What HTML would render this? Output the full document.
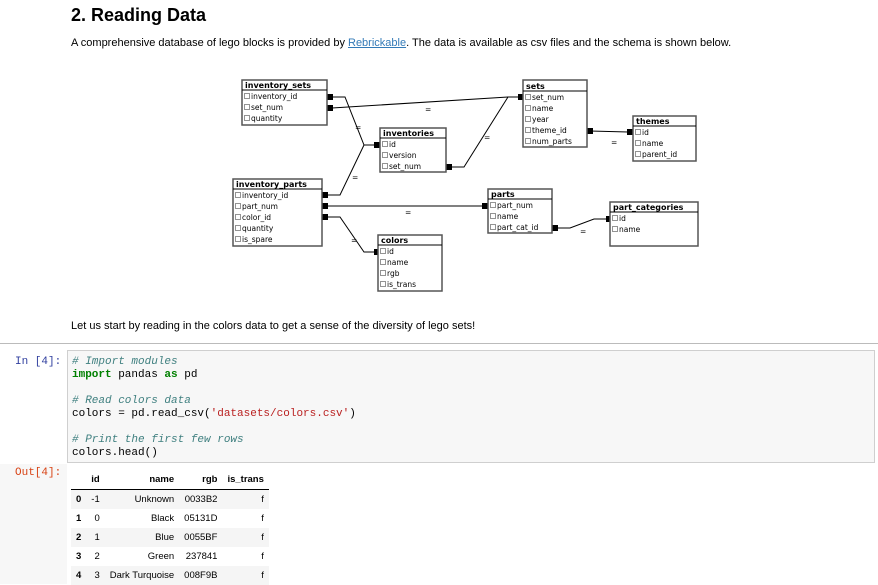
<!DOCTYPE html>
<html><head><meta charset="utf-8"><style>
body{margin:0;width:878px;height:584px;background:#fff;position:relative;overflow:hidden;font-family:"Liberation Sans",sans-serif;color:#000}
.a{position:absolute;white-space:nowrap}
.mono{font-family:"Liberation Mono",monospace;font-size:11px}
.c{color:#408080;font-style:italic}
.k{color:#008000;font-weight:bold}
.s{color:#ba2121}
table{border-collapse:collapse;font-size:9.5px}
td,th{padding:0 5px;height:19px;text-align:right}
th{font-weight:bold}
</style></head><body>
<div class="a" style="left:71px;top:5px;font-size:18px;font-weight:bold">2. Reading Data</div>
<div class="a" style="left:71px;top:37px;font-size:11px">A comprehensive database of lego blocks is provided by <span style="color:#337ab7;text-decoration:underline">Rebrickable</span>. The data is available as csv files and the schema is shown below.</div>

<svg class="a" style="left:0;top:0" width="878" height="320" font-family="DejaVu Sans, sans-serif" font-size="7.5">
<g stroke="#000" stroke-width="1" fill="none">
<polyline points="330,97 345,97 364,145 376,145"/>
<polyline points="332,108 508,97 518,97"/>
<polyline points="450,167 464,167 508,97"/>
<polyline points="326,195 340,195 364,145"/>
<polyline points="326,206 486,206"/>
<polyline points="326,217 340,217 364,252 376,252"/>
<polyline points="556,228 570,228 594,219 606,219"/>
<polyline points="590,131 628,132"/>
</g>
<g fill="#000">
<rect x="327" y="94" width="6" height="6"/><rect x="327" y="105" width="6" height="6"/>
<rect x="374" y="142" width="6" height="6"/><rect x="518" y="94" width="6" height="6"/>
<rect x="446" y="164" width="6" height="6"/><rect x="322" y="192" width="6" height="6"/>
<rect x="322" y="203" width="6" height="6"/><rect x="322" y="214" width="6" height="6"/>
<rect x="482" y="203" width="6" height="6"/><rect x="374" y="249" width="6" height="6"/>
<rect x="552" y="225" width="6" height="6"/><rect x="606" y="216" width="6" height="6"/>
<rect x="587" y="128" width="6" height="6"/><rect x="627" y="129" width="6" height="6"/>
<text x="425" y="112">=</text><text x="355" y="130">=</text><text x="484" y="140">=</text>
<text x="352" y="180">=</text><text x="405" y="215">=</text><text x="351" y="243">=</text>
<text x="580" y="234">=</text><text x="611" y="145">=</text>
</g>
<g>
<rect x="242" y="80" width="85" height="45" fill="#fff" stroke="#555" stroke-width="1.5"/>
<line x1="242" y1="90" x2="327" y2="90" stroke="#000"/>
<text x="245" y="88" font-weight="bold" font-size="8">inventory_sets</text>
<text x="251" y="99">inventory_id</text><text x="251" y="110">set_num</text><text x="251" y="121">quantity</text>
<rect x="523" y="80" width="64" height="67" fill="#fff" stroke="#555" stroke-width="1.5"/>
<line x1="523" y1="91" x2="587" y2="91" stroke="#000"/>
<text x="526" y="89" font-weight="bold" font-size="8">sets</text>
<text x="532" y="100">set_num</text><text x="532" y="111">name</text><text x="532" y="122">year</text><text x="532" y="133">theme_id</text><text x="532" y="144">num_parts</text>
<rect x="633" y="116" width="63" height="45" fill="#fff" stroke="#555" stroke-width="1.5"/>
<line x1="633" y1="126" x2="696" y2="126" stroke="#000"/>
<text x="636" y="124" font-weight="bold" font-size="8">themes</text>
<text x="642" y="135">id</text><text x="642" y="146">name</text><text x="642" y="157">parent_id</text>
<rect x="380" y="128" width="66" height="44" fill="#fff" stroke="#555" stroke-width="1.5"/>
<line x1="380" y1="138" x2="446" y2="138" stroke="#000"/>
<text x="383" y="136" font-weight="bold" font-size="8">inventories</text>
<text x="389" y="147">id</text><text x="389" y="158">version</text><text x="389" y="169">set_num</text>
<rect x="233" y="179" width="89" height="67" fill="#fff" stroke="#555" stroke-width="1.5"/>
<line x1="233" y1="189" x2="322" y2="189" stroke="#000"/>
<text x="236" y="187" font-weight="bold" font-size="8">inventory_parts</text>
<text x="242" y="198">inventory_id</text><text x="242" y="209">part_num</text><text x="242" y="220">color_id</text><text x="242" y="231">quantity</text><text x="242" y="242">is_spare</text>
<rect x="488" y="189" width="64" height="44" fill="#fff" stroke="#555" stroke-width="1.5"/>
<line x1="488" y1="199" x2="552" y2="199" stroke="#000"/>
<text x="491" y="197" font-weight="bold" font-size="8">parts</text>
<text x="497" y="208">part_num</text><text x="497" y="219">name</text><text x="497" y="230">part_cat_id</text>
<rect x="610" y="202" width="88" height="44" fill="#fff" stroke="#555" stroke-width="1.5"/>
<line x1="610" y1="212" x2="698" y2="212" stroke="#000"/>
<text x="613" y="210" font-weight="bold" font-size="8">part_categories</text>
<text x="619" y="221">id</text><text x="619" y="232">name</text>
<rect x="378" y="235" width="64" height="56" fill="#fff" stroke="#555" stroke-width="1.5"/>
<line x1="378" y1="245" x2="442" y2="245" stroke="#000"/>
<text x="381" y="243" font-weight="bold" font-size="8">colors</text>
<text x="387" y="254">id</text><text x="387" y="265">name</text><text x="387" y="276">rgb</text><text x="387" y="287">is_trans</text>
</g>
<g fill="#fff" stroke="#666" stroke-width="0.7">
<rect x="244.5" y="93.5" width="5" height="5"/><rect x="244.5" y="104.5" width="5" height="5"/><rect x="244.5" y="115.5" width="5" height="5"/>
<rect x="525.5" y="94.5" width="5" height="5"/><rect x="525.5" y="105.5" width="5" height="5"/><rect x="525.5" y="116.5" width="5" height="5"/><rect x="525.5" y="127.5" width="5" height="5"/><rect x="525.5" y="138.5" width="5" height="5"/>
<rect x="635.5" y="129.5" width="5" height="5"/><rect x="635.5" y="140.5" width="5" height="5"/><rect x="635.5" y="151.5" width="5" height="5"/>
<rect x="382.5" y="141.5" width="5" height="5"/><rect x="382.5" y="152.5" width="5" height="5"/><rect x="382.5" y="163.5" width="5" height="5"/>
<rect x="235.5" y="192.5" width="5" height="5"/><rect x="235.5" y="203.5" width="5" height="5"/><rect x="235.5" y="214.5" width="5" height="5"/><rect x="235.5" y="225.5" width="5" height="5"/><rect x="235.5" y="236.5" width="5" height="5"/>
<rect x="490.5" y="202.5" width="5" height="5"/><rect x="490.5" y="213.5" width="5" height="5"/><rect x="490.5" y="224.5" width="5" height="5"/>
<rect x="612.5" y="215.5" width="5" height="5"/><rect x="612.5" y="226.5" width="5" height="5"/>
<rect x="380.5" y="248.5" width="5" height="5"/><rect x="380.5" y="259.5" width="5" height="5"/><rect x="380.5" y="270.5" width="5" height="5"/><rect x="380.5" y="281.5" width="5" height="5"/>
</g>
</svg>

<div class="a" style="left:71px;top:320px;font-size:11px">Let us start by reading in the colors data to get a sense of the diversity of lego sets!</div>
<div class="a" style="left:0;top:343px;width:878px;height:1px;background:#bbb"></div>

<div class="a" style="left:0;top:464px;width:878px;height:120px;background:#f7f7f7"></div>
<div class="a" style="left:67px;top:464px;width:811px;height:120px;background:#fff"></div>
<div class="a" style="left:67px;top:350px;width:808px;height:113px;background:#f7f7f7;border:1px solid #cfcfcf;box-sizing:border-box"></div>
<div class="a mono" style="left:15px;top:356px;color:#303f9f">In [4]:</div>
<div class="a mono" style="left:15px;top:467px;color:#d84315">Out[4]:</div>
<div class="a mono" style="left:72px;top:356px;line-height:13px">
<span class="c"># Import modules</span><br>
<span class="k">import</span> pandas <span class="k">as</span> pd<br><br>
<span class="c"># Read colors data</span><br>
colors = pd.read_csv(<span class="s">'datasets/colors.csv'</span>)<br><br>
<span class="c"># Print the first few rows</span><br>
colors.head()
</div>

<div class="a" style="left:71px;top:470px">
<table>
<tr style="border-bottom:1px solid #000"><th></th><th>id</th><th style="width:60px">name</th><th>rgb</th><th>is_trans</th></tr>
<tr style="background:#f5f5f5"><th>0</th><td>-1</td><td>Unknown</td><td>0033B2</td><td>f</td></tr>
<tr><th>1</th><td>0</td><td>Black</td><td>05131D</td><td>f</td></tr>
<tr style="background:#f5f5f5"><th>2</th><td>1</td><td>Blue</td><td>0055BF</td><td>f</td></tr>
<tr><th>3</th><td>2</td><td>Green</td><td>237841</td><td>f</td></tr>
<tr style="background:#f5f5f5"><th>4</th><td>3</td><td>Dark Turquoise</td><td>008F9B</td><td>f</td></tr>
</table>
</div>
</body></html>
